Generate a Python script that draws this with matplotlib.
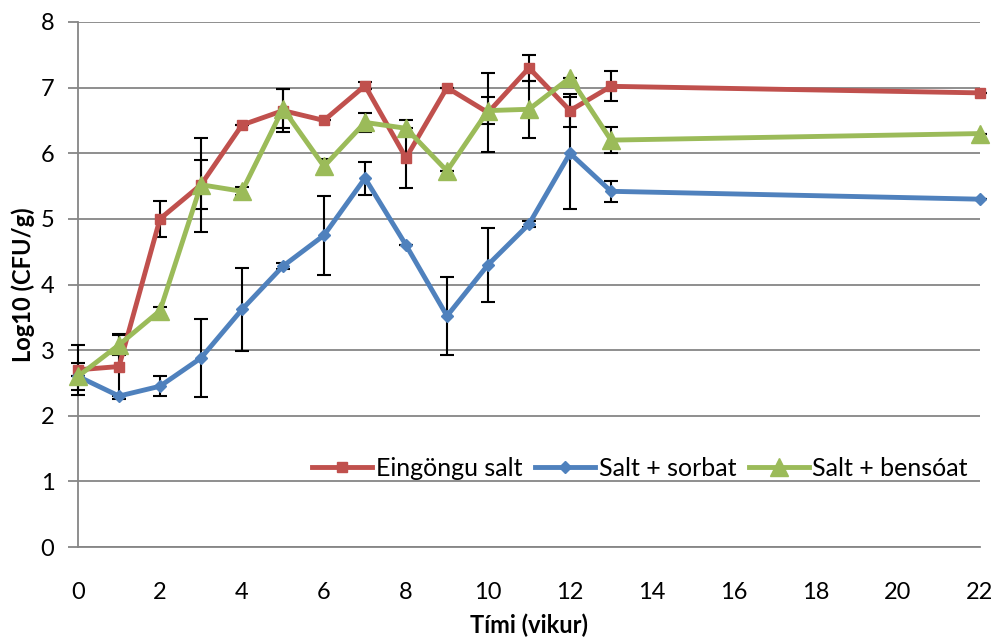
import matplotlib
matplotlib.use("Agg")
import matplotlib.pyplot as plt
from matplotlib.lines import Line2D

weeks = [0, 1, 2, 3, 4, 5, 6, 7, 8, 9, 10, 11, 12, 13, 22]
salt = [2.70, 2.75, 5.00, 5.52, 6.43, 6.65, 6.50, 7.03, 5.93, 7.00, 6.62, 7.30, 6.65, 7.02, 6.92]
salt_err = [0.38, 0.50, 0.28, 0.37, 0.0, 0.33, 0.0, 0.05, 0.46, 0.0, 0.60, 0.20, 0.25, 0.23, 0.0]
sorbat = [2.60, 2.30, 2.45, 2.88, 3.62, 4.28, 4.75, 5.62, 4.60, 3.52, 4.30, 4.92, 6.00, 5.42, 5.30]
sorbat_err = [0.20, 0.0, 0.15, 0.59, 0.63, 0.05, 0.60, 0.25, 0.0, 0.60, 0.56, 0.05, 0.85, 0.16, 0.0]
bens = [2.60, 3.08, 3.60, 5.52, 5.42, 6.68, 5.80, 6.47, 6.38, 5.73, 6.65, 6.67, 7.15, 6.20, 6.30]
bens_err = [0.0, 0.15, 0.06, 0.72, 0.06, 0.30, 0.12, 0.15, 0.12, 0.0, 0.20, 0.43, 0.0, 0.20, 0.0]

labels = ["Eingöngu salt", "Salt + sorbat", "Salt + bensóat"]
xticks = [0, 2, 4, 6, 8, 10, 12, 14, 16, 18, 20, 22]
yticks = [0, 1, 2, 3, 4, 5, 6, 7, 8]

plt.rcParams['font.family'] = ['Lato', 'DejaVu Sans']

fig = plt.figure(figsize=(9.95, 6.44), dpi=100)
ax = fig.add_axes([78/995, 1-547/644, (980-78)/995, (547-22)/644])

series = [
    (salt, salt_err, '#C0504D', 's', 7),
    (sorbat, sorbat_err, '#4F81BD', 'D', 6),
    (bens, bens_err, '#9BBB59', '^', 13),
]
handles = []
for (vals, err, col, mk, ms), lab in zip(series, labels):
    cont = ax.errorbar(weeks, vals, yerr=err, color=col, lw=3.5, marker=mk, ms=ms,
                       mec=col, mfc=col, ecolor='black', elinewidth=1.5, capsize=5,
                       capthick=1.5, zorder=3)
    for art in cont.get_children():
        art.set_clip_on(False)
    handles.append(Line2D([], [], color=col, lw=3.5, marker=mk, ms=ms, mec=col, mfc=col))

ax.set_xlim(0, 22)
ax.set_ylim(0, 8)
ax.set_xticks(xticks)
ax.set_yticks(yticks)
ax.yaxis.grid(True, color='#868686', lw=1.3)
ax.set_axisbelow(True)
for s in ['top', 'right']:
    ax.spines[s].set_visible(False)
for s in ['left', 'bottom']:
    ax.spines[s].set_color('#868686')
    ax.spines[s].set_linewidth(1.3)
ax.tick_params(axis='both', colors='#868686', length=7, width=1.3, labelsize=17,
               labelcolor='black')
ax.tick_params(axis='x', length=0, pad=25)
ax.tick_params(axis='y', pad=10)
ax.set_xlabel('Tími (vikur)', fontsize=17, fontweight='bold', labelpad=8)
ax.set_ylabel('Log10 (CFU/g)', fontsize=17, fontweight='bold', labelpad=4)

leg = ax.legend(handles, labels, loc='center', bbox_to_anchor=(640/995, 1-468/644),
                bbox_transform=fig.transFigure, ncol=3, frameon=False, fontsize=18,
                handlelength=2.4, handletextpad=0.15, columnspacing=0.5, borderpad=0.1)

fig.savefig('out.png', dpi=100)
